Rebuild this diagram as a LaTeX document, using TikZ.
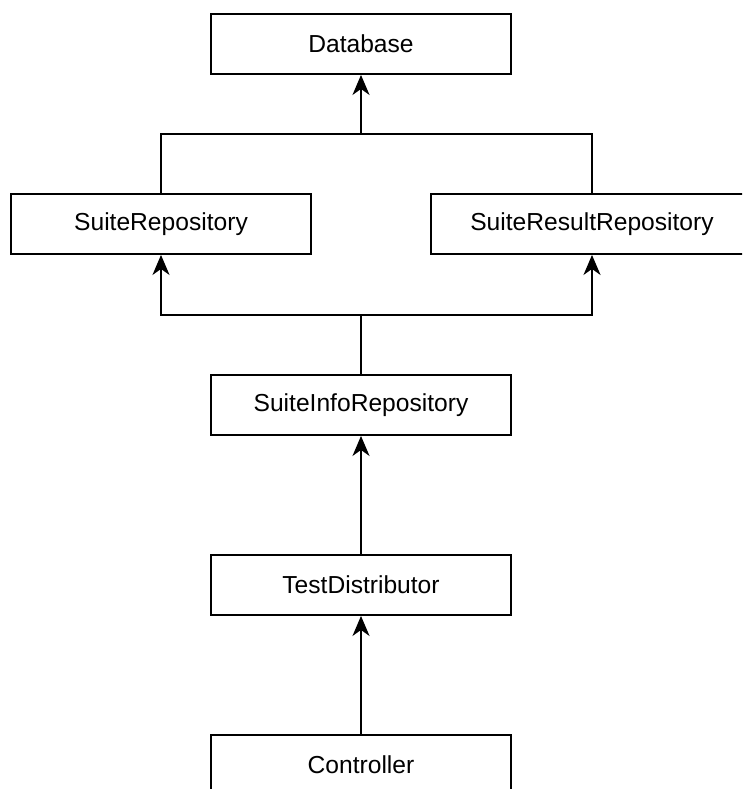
\documentclass[tikz,border=0pt]{standalone}
\usepackage{fontspec}
\setmainfont{Liberation Sans}
\usetikzlibrary{arrows.meta}

\tikzset{
  block/.style={draw=black, line width=1.9pt, fill=white, minimum height=60pt,
    minimum width=300pt, inner sep=0pt, font=\fontsize{24.6}{29}\selectfont},
  wide/.style={minimum width=322pt},
  link/.style={draw=black, line width=1.9pt},
  dep/.style={link, -{Stealth[length=20pt, width=17pt, inset=6pt]}}
}

\begin{document}
\begin{tikzpicture}[x=1pt, y=1pt]
  \path[use as bounding box] (0,0) rectangle (742,-789);
  \clip (0,0) rectangle (742,-789);
  \fill[white] (0,0) rectangle (742,-789);

  % class boxes
  \node[block] (db)    at (361,-44)   {Database};
  \node[block] (srep)  at (161,-224)  {SuiteRepository};
  \node[block, wide] (srr) at (592,-224) {SuiteResultRepository};
  \node[block] (sinfo) at (361,-405)  {SuiteInfoRepository};
  \node[block] (td)    at (361,-585)  {TestDistributor};
  \node[block] (ctrl)  at (361,-765)  {Controller};

  % junction points of the forked connectors
  \coordinate (jtop) at (361,-134);
  \coordinate (jmid) at (361,-315);

  % repositories depend on the database
  \draw[link] (srep.north) |- (srr.north |- jtop) -- (srr.north);
  \draw[dep] (jtop) -- (db.south);

  % info repository depends on both repositories
  \draw[link] (sinfo.north) -- (jmid);
  \draw[dep] (jmid) -| (srep.south);
  \draw[dep] (jmid) -| (srr.south);

  % lower chain
  \draw[dep] (td.north) -- (sinfo.south);
  \draw[dep] (ctrl.north) -- (td.south);
\end{tikzpicture}
\end{document}
